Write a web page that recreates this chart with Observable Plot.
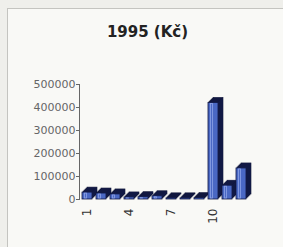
<!DOCTYPE html>
<html>
<head>
<meta charset="utf-8">
<script src="https://cdn.jsdelivr.net/npm/d3@7"></script>
<script src="https://cdn.jsdelivr.net/npm/@observablehq/plot@0.6"></script>
<style>
  html, body { margin: 0; padding: 0; background: #efefeb; }
  #wrap { position: relative; width: 283px; height: 247px; overflow: hidden; }
  #panel { position: absolute; left: 7px; top: 8px; width: 290px; height: 260px; border: 1px solid #c4c4c0; background: #f9f9f6; box-sizing: border-box; }
  #title { position: absolute; left: 0; width: 295px; top: 23px; text-align: center; font: bold 15px "DejaVu Sans", sans-serif; color: #222; }
  #chart { position: absolute; left: 0; top: 0; }
</style>
</head>
<body>
<div id="wrap">
  <div id="panel"></div>
  <div id="title">1995 (Kč)</div>
  <div id="chart"></div>
</div>
<script>
const categories = [1, 2, 3, 4, 5, 6, 7, 8, 9, 10, 11, 12];
const values = [30000, 26000, 22000, 9000, 10000, 14000, 5000, 5000, 6000, 420000, 60000, 135000];
const yTicks = [0, 100000, 200000, 300000, 400000, 500000];
const xTicks = [1, 4, 7, 10];

const data = categories.map((c, i) => ({cat: c, value: values[i]}));

// pseudo-3D extrusion layers (styling only)
const depth = [5, 4, 3, 2, 1];
const extrusion = depth.map(k =>
  Plot.barY(data, {x: "cat", y: "value", fill: "#1b2358", stroke: "#0d1233", strokeWidth: 0.6, dx: k, dy: -k})
);

const chart = Plot.plot({
  width: 283,
  height: 247,
  marginLeft: 79,
  marginRight: 35,
  marginTop: 84,
  marginBottom: 48,
  style: {background: "transparent", fontFamily: "DejaVu Sans", fontSize: "11px", color: "#666"},
  x: {type: "band", domain: categories, paddingInner: 0.32, paddingOuter: 0.1, ticks: xTicks, tickRotate: -90, tickSize: 0, tickPadding: 9, label: null},
  y: {domain: [0, 500000], ticks: yTicks, tickSize: 3, tickPadding: 1, tickFormat: d => String(d), label: null, line: true},
  marks: [
    ...extrusion,
    Plot.barY(data, {x: "cat", y: "value", fill: "#4a68c4", stroke: "#0f1640", strokeWidth: 0.8}),
    Plot.barY(data, {x: "cat", y: "value", fill: "none", stroke: "#8ea3e6", strokeWidth: 0.8, insetLeft: 2.5, insetRight: 5.5, insetTop: 1, insetBottom: 1})
  ]
});
chart.querySelectorAll('[aria-label="x-axis tick label"] text').forEach(t => { t.style.fill = "#333"; t.style.fontSize = "12px"; });
document.getElementById("chart").appendChild(chart);
</script>
</body>
</html>
